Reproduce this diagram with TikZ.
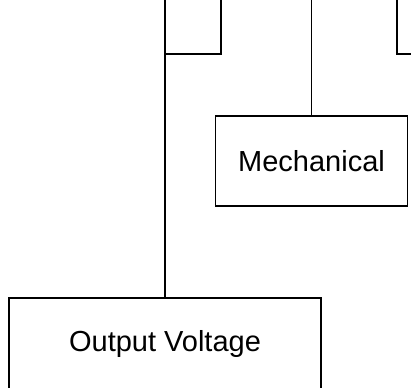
\documentclass[tikz,border=0pt]{standalone}
\usepackage{fontspec}
\setmainfont{Liberation Sans}
\begin{document}
\begin{tikzpicture}[x=1pt,y=-1pt,line width=1.3pt,
  box/.style={draw,rectangle,inner sep=0pt,font=\fontsize{29}{34}\selectfont}]
\useasboundingbox (0,0) rectangle (411,387);
\node[box,minimum width=192pt,minimum height=90pt] (mech) at (311.5,161) {Mechanical};
\node[box,minimum width=312pt,minimum height=91pt] (out) at (165,343.5) {Output Voltage};
\coordinate (t1) at (165,-3);
\coordinate (t2) at (221,-3);
\coordinate (k1) at (165,54);
\coordinate (k2) at (221,54);
\coordinate (t3) at (311.5,-3);
\coordinate (t4) at (397,-3);
\coordinate (k4) at (397,54);
\coordinate (e4) at (414,54);
\draw (t1) -- (out.north);
\draw (t2) -- (k2) -- (k1);
\draw (t3) -- (mech.north);
\draw (t4) -- (k4) -- (e4);
\end{tikzpicture}
\end{document}
